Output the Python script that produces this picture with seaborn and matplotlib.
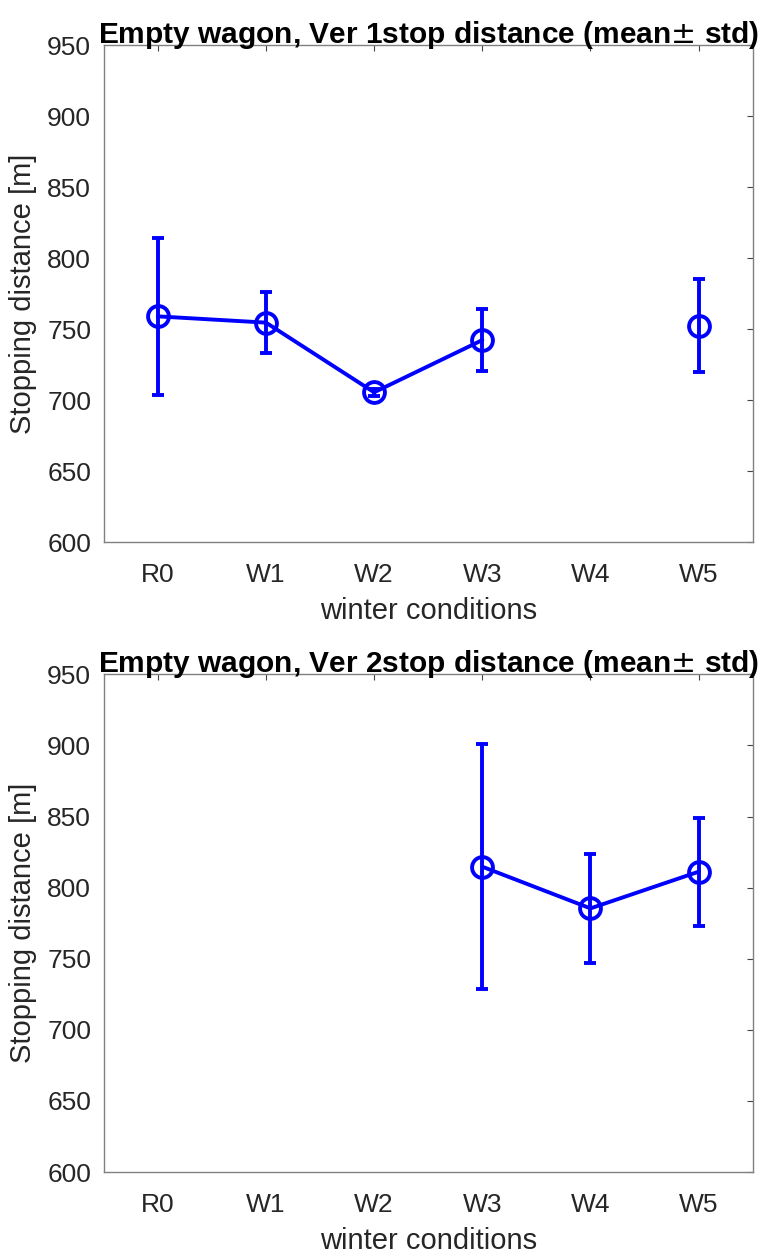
import numpy as np
import pandas as pd
import matplotlib
matplotlib.use("Agg")
import matplotlib.pyplot as plt
import seaborn as sns

categories = ["R0", "W1", "W2", "W3", "W4", "W5"]
mean_v1 = [759.0, 754.6, 705.5, 742.3, np.nan, 752.4]
std_v1 = [55.5, 21.7, 2.5, 21.8, np.nan, 32.7]
mean_v2 = [np.nan, np.nan, np.nan, 814.7, 785.4, 811.2]
std_v2 = [np.nan, np.nan, np.nan, 86.0, 38.1, 38.0]
titles = ["Empty wagon, Ver 1stop distance (mean$\\pm$ std)",
          "Empty wagon, Ver 2stop distance (mean$\\pm$ std)"]
yticks = [600, 650, 700, 750, 800, 850, 900, 950]

sns.set_theme(style="white")
plt.rcParams['font.family'] = ['Liberation Sans', 'DejaVu Sans']
plt.rcParams['mathtext.fontset'] = 'dejavusans'

fig = plt.figure(figsize=(7.66, 12.55), dpi=100)
axes_pos = [[0.1354, 0.5681, 0.8473, 0.3958], [0.1354, 0.0661, 0.8473, 0.3966]]
blue = "#0000FF"
txt = "#262626"

for pos, means, stds, title in zip(axes_pos, [mean_v1, mean_v2], [std_v1, std_v2], titles):
    ax = fig.add_axes(pos)
    x = np.arange(1, len(categories) + 1)
    m = np.array(means, dtype=float)
    s = np.array(stds, dtype=float)
    valid = ~np.isnan(m)
    seg = np.cumsum(~valid)
    df = pd.DataFrame({"x": x, "mean": m, "std": s, "seg": seg})[valid]
    sns.lineplot(data=df, x="x", y="mean", units="seg", estimator=None, ax=ax,
                 color=blue, lw=2.8, marker="o", markersize=15,
                 markerfacecolor="none", markeredgecolor=blue, markeredgewidth=2.8)
    ax.errorbar(df["x"], df["mean"], yerr=df["std"], fmt="none", ecolor=blue,
                elinewidth=2.8, capsize=4.5, capthick=2.8)
    ax.set_xlim(0.5, 6.5)
    ax.set_ylim(600, 950)
    ax.set_xticks(x)
    ax.set_xticklabels(categories)
    ax.set_yticks(yticks)
    ax.tick_params(axis="both", direction="in", top=True, right=True, length=4.5,
                   width=0.8, color="#444444", labelsize=19, labelcolor=txt)
    ax.tick_params(axis="x", pad=15)
    ax.tick_params(axis="y", pad=9)
    for sp in ax.spines.values():
        sp.set_visible(True)
        sp.set_color("#808080")
        sp.set_linewidth(1.0)
    ax.set_xlabel("winter conditions", fontsize=21, color=txt, labelpad=7)
    ax.set_ylabel("Stopping distance [m]", fontsize=21, color=txt, labelpad=7)
    ax.set_title(title, fontsize=21.5, fontweight="bold", color="black", pad=2)

fig.savefig("out.png", dpi=100)
